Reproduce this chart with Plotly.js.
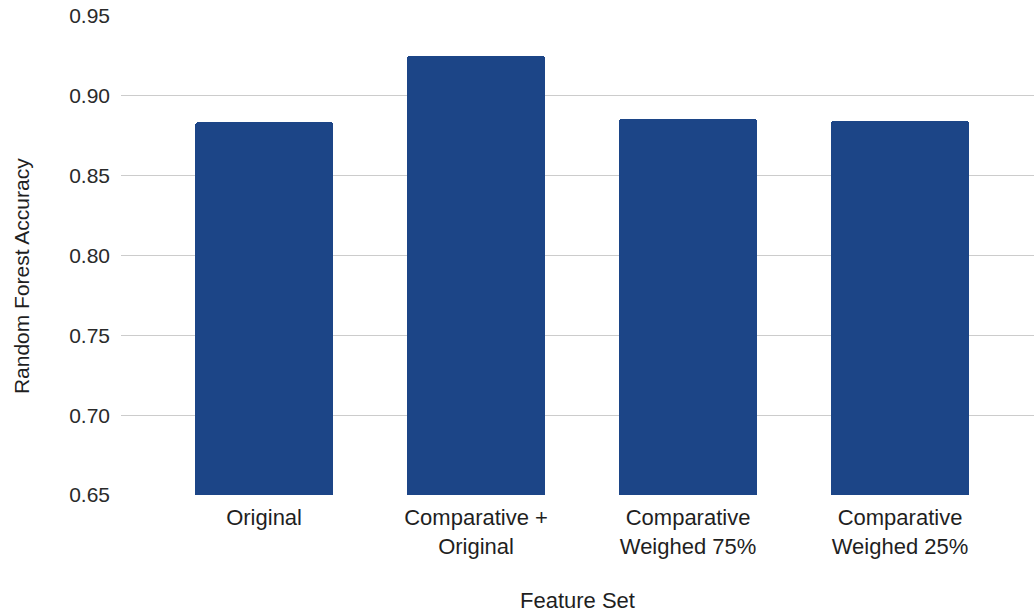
<!DOCTYPE html>
<html><head><meta charset="utf-8">
<script src="https://cdn.plot.ly/plotly-3.0.1.min.js"></script>
<style>html,body{margin:0;padding:0;background:#fff}#chart{width:1034px;height:613px}</style>
</head><body><div id="chart"></div>
<script>
const categories = ["Original", "Comparative + Original", "Comparative Weighed 75%", "Comparative Weighed 25%"];
const tickLabels = ["Original", "Comparative +<br>Original", "Comparative<br>Weighed 75%", "Comparative<br>Weighed 25%"];
const accuracy = [0.8835, 0.925, 0.8855, 0.8845];
const yTicks = [0.65, 0.70, 0.75, 0.80, 0.85, 0.90, 0.95];
const yTickLabels = ["0.65", "0.70", "0.75", "0.80", "0.85", "0.90", "0.95"];
const xTitle = "Feature Set";
const yTitle = "Random Forest Accuracy";

const trace = {
  type: "bar",
  x: categories.map((c, i) => i),
  y: accuracy,
  width: 0.65,
  marker: {color: "#1c4587", cornerradius: 3},
  hoverinfo: "x+y"
};
const layout = {
  width: 1034, height: 613,
  margin: {l: 121, r: 0, t: 16, b: 118},
  paper_bgcolor: "#fff", plot_bgcolor: "#fff",
  font: {family: "'Liberation Sans', Arial, sans-serif", size: 21, color: "#1f1f1f"},
  showlegend: false,
  xaxis: {
    range: [-0.675, 3.632],
    tickvals: [0, 1, 2, 3],
    ticktext: tickLabels,
    showgrid: false, zeroline: false, showline: false, ticks: "",
    ticklabelstandoff: 7,
    tickfont: {size: 22, color: "#1f1f1f"},
    title: {text: xTitle, font: {size: 22, color: "#1f1f1f"}, standoff: 36}
  },
  yaxis: {
    range: [0.65, 0.95],
    tickvals: yTicks,
    ticktext: yTickLabels,
    showgrid: true, gridcolor: "#cccccc", gridwidth: 1,
    zeroline: false, showline: false, ticks: "",
    ticklabelstandoff: 10,
    tickfont: {size: 21, color: "#2a2a2a"}
  },
  annotations: [{
    text: yTitle, textangle: -90,
    xref: "paper", yref: "paper", x: -0.1095, y: 0.457, xanchor: "center", yanchor: "middle",
    showarrow: false, font: {size: 21, color: "#1f1f1f"}
  }],
  bargap: 0
};
Plotly.newPlot("chart", [trace], layout, {displayModeBar: false, staticPlot: true});
</script>
</body></html>
